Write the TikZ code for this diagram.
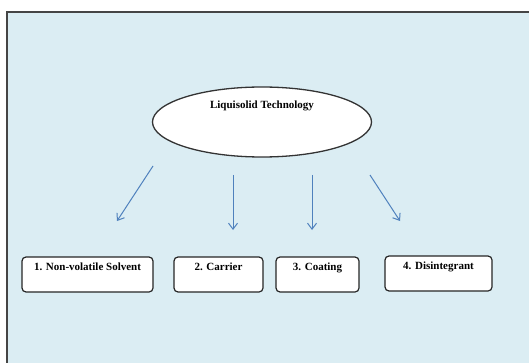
\documentclass[tikz,border=0pt]{standalone}
\usepackage{fontspec}
\setmainfont{Liberation Serif}
\usepackage{xcolor}
\usepackage{tikz}
\usetikzlibrary{arrows.meta,shapes.geometric}
\definecolor{panelblue}{HTML}{DBEDF3}
\definecolor{framegray}{HTML}{454545}
\definecolor{officeblue}{HTML}{4F81BD}
\tikzset{
  topicshape/.style={
    ellipse,
    draw=black!80,
    fill=white,
    line width=1.3pt,
    minimum width=219pt,
    minimum height=70pt,
    inner sep=3pt,
    text height=7pt,
    text depth=33pt,
    font=\fontsize{11}{13}\selectfont\bfseries
  },
  partbox/.style={
    draw=black!85,
    fill=white,
    rounded corners=4pt,
    line width=1.2pt,
    inner xsep=4pt,
    inner ysep=3pt,
    text height=10pt,
    text depth=19pt,
    font=\fontsize{11}{13}\selectfont\bfseries
  },
  flowarrow/.style={
    -{Straight Barb[length=6pt,width=9pt]},
    line width=1pt,
    draw=officeblue
  }
}

\begin{document}
\begin{tikzpicture}[x=1pt,y=-1pt]
    \clip (0,0) rectangle (529,363);
    \draw[fill=panelblue, draw=framegray, line width=2pt] (6.5,12.5) rectangle (540,375);

    \node[topicshape] (tech) at (262,122) {Liquisolid Technology};

    \node[partbox, minimum width=131pt] (solvent) at (87.5,274.5) {1. Non-volatile Solvent};
    \node[partbox, minimum width=89pt] (carrier) at (218.5,274.5) {2. Carrier};
    \node[partbox, minimum width=83pt] (coating) at (317.5,274.5) {3. Coating};
    \node[partbox, minimum width=107pt, minimum height=33pt] (disint) at (438.5,273.5) {4. Disintegrant};

    % arrow ends stop short of the boxes
    \coordinate (a1) at (153,166);
    \coordinate (b1) at (117,221);
    \coordinate (a2) at (233,175);
    \coordinate (b2) at (233,230);
    \coordinate (a3) at (312,175);
    \coordinate (b3) at (312,230);
    \coordinate (a4) at (370,175);
    \coordinate (b4) at (400,221);

    \draw[flowarrow] (a1) -- (b1);
    \draw[flowarrow] (a2) -- (b2);
    \draw[flowarrow] (a3) -- (b3);
    \draw[flowarrow] (a4) -- (b4);
\end{tikzpicture}
\end{document}
